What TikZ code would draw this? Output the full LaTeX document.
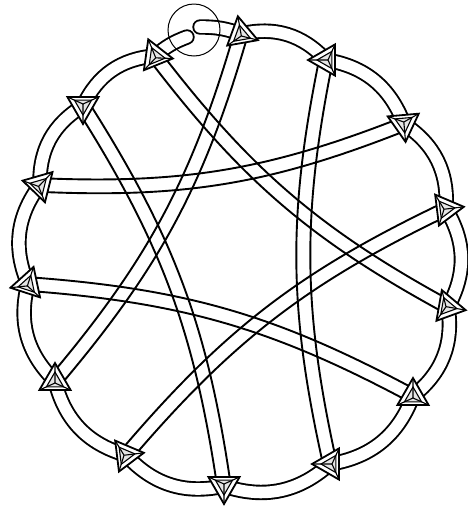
\documentclass[tikz,border=0pt]{standalone}
\usetikzlibrary{calc}
\tikzset{
  ring/.style={draw=black, line width=1.9pt, double=white, double distance=11.6pt},
  capring/.style={ring, line cap=round},
  chordline/.style={draw=black, line width=1.9pt},
  tetout/.style={draw=black, fill=white, line width=1.8pt, line join=miter},
  tetin/.style={draw=black, line width=1.1pt, fill=gray!20},
  tetspoke/.style={draw=black, line width=1.1pt},
  twistmark/.style={circle, draw=black, line width=1pt, minimum size=52pt, inner sep=0pt}
}
\newcommand\chord[2]{%
  \draw[chordline] ($(#1)!7pt!90:(#2)$) to[bend right=12] ($(#2)!7pt!-90:(#1)$);
  \draw[chordline] ($(#1)!7pt!-90:(#2)$) to[bend right=12] ($(#2)!7pt!90:(#1)$);}
\newcommand\tetra[2]{%
  \coordinate (#1-a) at ($(#1)+(#2:18pt)$);
  \coordinate (#1-b) at ($(#1)+(#2+120:18pt)$);
  \coordinate (#1-c) at ($(#1)+(#2+240:18pt)$);
  \coordinate (#1-m) at ($(#1)+(#2+180:2pt)$);
  \filldraw[tetout] (#1-a) -- (#1-b) -- (#1-c) -- cycle;
  \filldraw[tetin] ($(#1-m)!0.55!(#1-a)$) -- ($(#1-m)!0.55!(#1-b)$) -- ($(#1-m)!0.55!(#1-c)$) -- cycle;
  \draw[tetspoke] (#1-a) -- (#1-m) -- (#1-b) (#1-m) -- (#1-c);}
\begin{document}
\begin{tikzpicture}[x=1pt,y=-1pt]
\useasboundingbox (0,0) rectangle (467,507);
% node positions
\coordinate (n0) at (155,56);
\coordinate (n1) at (241,34);
\coordinate (n2) at (326,60);
\coordinate (n3) at (404,124);
\coordinate (n4) at (446,209);
\coordinate (n5) at (448,307);
\coordinate (n6) at (413,396);
\coordinate (n7) at (330,464);
\coordinate (n8) at (224,486);
\coordinate (n9) at (126,455);
\coordinate (n10) at (55,381);
\coordinate (n11) at (28,284);
\coordinate (n12) at (40,185);
\coordinate (n13) at (83,106);
\coordinate (tw1) at (187,37);
\coordinate (tw2) at (200,27);
% chords
\chord{n0}{n5}
\chord{n2}{n7}
\chord{n4}{n9}
\chord{n6}{n11}
\chord{n8}{n13}
\chord{n10}{n1}
\chord{n12}{n3}
% ring
\draw[ring] (n1) to[bend left=30] (n2);
\draw[ring] (n2) to[bend left=30] (n3);
\draw[ring] (n3) to[bend left=30] (n4);
\draw[ring] (n4) to[bend left=30] (n5);
\draw[ring] (n5) to[bend left=30] (n6);
\draw[ring] (n6) to[bend left=30] (n7);
\draw[ring] (n7) to[bend left=30] (n8);
\draw[ring] (n8) to[bend left=30] (n9);
\draw[ring] (n9) to[bend left=30] (n10);
\draw[ring] (n10) to[bend left=30] (n11);
\draw[ring] (n11) to[bend left=30] (n12);
\draw[ring] (n12) to[bend left=30] (n13);
\draw[ring] (n13) to[bend left=30] (n0);
\draw[capring] (n0) to[bend left=10] (tw1);
\draw[capring] (n1) to[bend right=10] (tw2);
% markers
\tetra{n0}{112}
\tetra{n1}{100}
\tetra{n2}{180}
\tetra{n3}{-85}
\tetra{n4}{7}
\tetra{n5}{-10}
\tetra{n6}{90}
\tetra{n7}{180}
\tetra{n8}{-90}
\tetra{n9}{7}
\tetra{n10}{90}
\tetra{n11}{72}
\tetra{n12}{46}
\tetra{n13}{-90}
\node[twistmark] (twist) at (194,30) {};
\end{tikzpicture}
\end{document}
